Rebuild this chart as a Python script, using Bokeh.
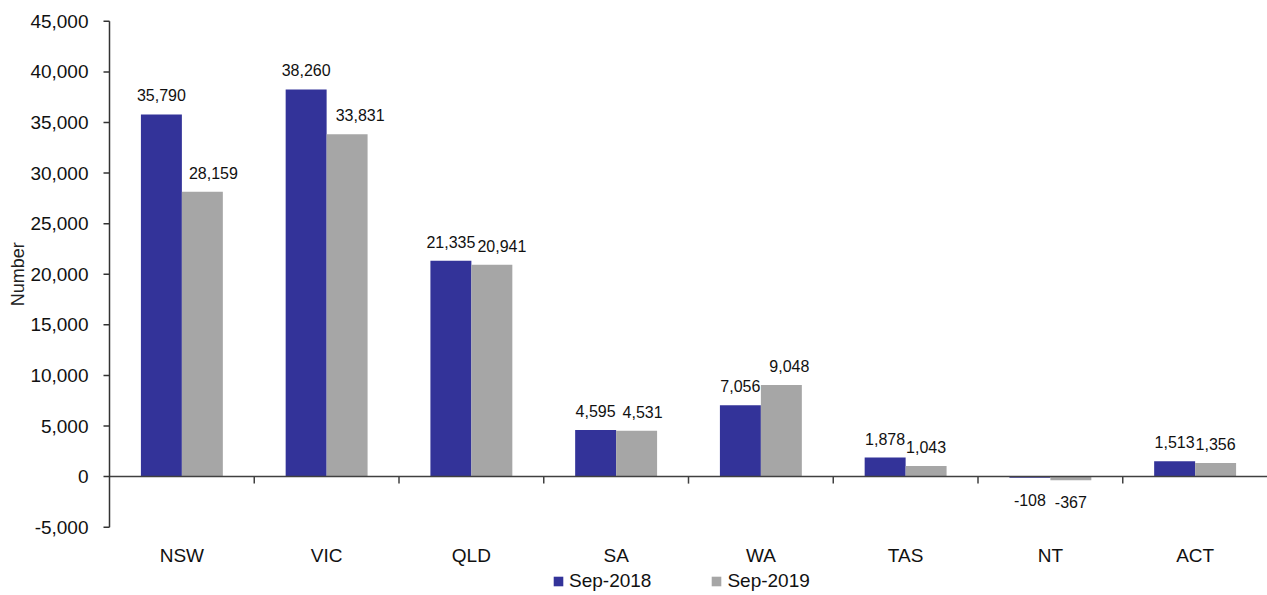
import math
from bokeh.plotting import figure
from bokeh.models import ColumnDataSource, Range1d, Legend, LegendItem
from bokeh.core.properties import value
from bokeh.embed import file_html
from bokeh.resources import INLINE

# Net change in numbers by state / territory
states = ["NSW", "VIC", "QLD", "SA", "WA", "TAS", "NT", "ACT"]
sep_2018 = [35790, 38260, 21335, 4595, 7056, 1878, -108, 1513]
sep_2019 = [28159, 33831, 20941, 4531, 9048, 1043, -367, 1356]
series_names = ["Sep-2018", "Sep-2019"]
y_ticks = list(range(-5000, 45001, 5000))
y_title = "Number"

FONT = "Liberation Sans"
BLUE = "#333399"
GREY = "#A6A6A6"
AXIS = "#333333"
TEXT = "#111111"

# page geometry (pixels)
W, H = 1267, 595
AX_X = 109          # y axis position
TOP_PX = 20.8       # pixel row of the top of the value scale
BOT_PX = 526.7      # pixel row of the bottom of the value scale
Y_MIN, Y_MAX = -5000, 45000

# sideways nudge (px) of the second series' value labels, to keep clear of the first
label_nudge_2019 = [11, 13, 10, 6, 8, 0, 0, 0]

n = len(states)
cat_w = (W - AX_X) / n
ppu = (BOT_PX - TOP_PX) / (Y_MAX - Y_MIN)

x_range = Range1d(-AX_X / cat_w, n)
y_range = Range1d(Y_MIN - (H - BOT_PX) / ppu, Y_MAX + TOP_PX / ppu)

p = figure(width=W, height=H, output_backend="svg", toolbar_location=None,
           x_range=x_range, y_range=y_range, x_axis_type=None, y_axis_type=None,
           min_border=0)
p.outline_line_color = None
p.grid.visible = False
p.background_fill_color = "white"
p.border_fill_color = "white"

centers = [i + 0.5 for i in range(n)]
bar_w = 0.283


def label_offsets(vals):
    return [-19 if v >= 0 else 22 for v in vals]


src18 = ColumnDataSource(dict(
    x=[c - bar_w / 2 for c in centers], top=sep_2018,
    label=[f"{v:,}" for v in sep_2018], yoff=label_offsets(sep_2018),
    xoff=[0] * n))
src19 = ColumnDataSource(dict(
    x=[c + bar_w / 2 for c in centers], top=sep_2019,
    label=[f"{v:,}" for v in sep_2019], yoff=label_offsets(sep_2019),
    xoff=label_nudge_2019))

r18 = p.vbar(x="x", top="top", bottom=0, width=bar_w, source=src18,
             fill_color=BLUE, line_color=None)
r19 = p.vbar(x="x", top="top", bottom=0, width=bar_w, source=src19,
             fill_color=GREY, line_color=None)

# value labels above positive bars, below negative ones
for src in (src18, src19):
    p.text(x="x", y="top", text="label", source=src, x_offset="xoff", y_offset="yoff",
           text_align="center", text_baseline="middle",
           text_font=value(FONT), text_font_size="16px", text_color=TEXT)

# horizontal axis along zero, with ticks between categories
p.segment(x0=[0], y0=[0], x1=[n], y1=[0], line_color="#404040", line_width=1.5)
tick_len = 7 / ppu
bounds = list(range(1, n))
p.segment(x0=bounds, y0=[0] * len(bounds), x1=bounds, y1=[-tick_len] * len(bounds),
          line_color="#404040", line_width=1.5)

# category names under the scale
p.text(x=centers, y=[Y_MIN] * n, text=states, y_offset=28,
       text_align="center", text_baseline="middle",
       text_font=value(FONT), text_font_size="19px", text_color=TEXT)

# vertical value axis
p.segment(x0=[0], y0=[Y_MIN], x1=[0], y1=[Y_MAX], line_color=AXIS, line_width=1.5)
ytick_len = 6 / cat_w
p.segment(x0=[0] * len(y_ticks), y0=y_ticks, x1=[-ytick_len] * len(y_ticks), y1=y_ticks,
          line_color=AXIS, line_width=1.5)
p.text(x=[0] * len(y_ticks), y=y_ticks, text=[f"{t:,}" for t in y_ticks], x_offset=-21,
       text_align="right", text_baseline="middle",
       text_font=value(FONT), text_font_size="19px", text_color=TEXT)
p.text(x=[(17 - AX_X) / cat_w], y=[(Y_MIN + Y_MAX) / 2], text=[y_title], angle=math.pi / 2,
       text_align="center", text_baseline="middle",
       text_font=value(FONT), text_font_size="18px", text_color="#222222")

legend = Legend(items=[LegendItem(label=series_names[0], renderers=[r18]),
                       LegendItem(label=series_names[1], renderers=[r19])],
                orientation="horizontal", location=(552, 3),
                glyph_width=12, glyph_height=12, label_standoff=5, spacing=59,
                padding=0, margin=0, border_line_color=None,
                background_fill_alpha=0,
                label_text_font=FONT, label_text_font_size="19px",
                label_text_color=TEXT)
p.add_layout(legend, "center")

open("out.html", "w").write(file_html(p, INLINE))
